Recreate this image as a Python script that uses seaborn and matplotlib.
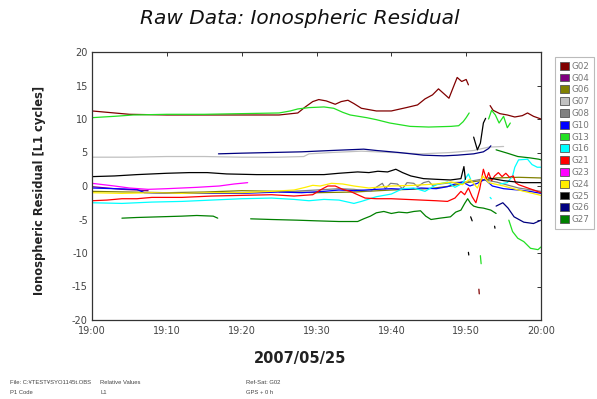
import numpy as np
import pandas as pd
import matplotlib
matplotlib.use("Agg")
import matplotlib.pyplot as plt
from matplotlib.patches import Patch
import seaborn as sns

nan = np.nan

# ---- data: minutes after 19:00, ionospheric residual [L1 cycles]; NaN = break ----
G02_t = [0, 2, 5, 10, 15, 20, 25, 27.5, 28.5, 29.5, 30.3, 31.3, 32.5, 33.3, 34.2, 35, 36, 38, 40, 42, 43.5, 44.5, 45.5, 46.3, 47, 47.7, 48.3, 48.8, 49.4, 50, 50.3,
         nan, 53.2, 53.6, 54.5, 55.5, 56.5, 57.5, 58.2, 59, 60, nan, 51.7, 51.75]
G02_v = [11.2, 11.0, 10.7, 10.6, 10.6, 10.6, 10.6, 10.9, 11.8, 12.6, 12.9, 12.7, 12.2, 12.6, 12.8, 12.3, 11.6, 11.2, 11.2, 11.7, 12.1, 13.0, 13.6, 14.5, 13.8, 13.1, 14.8, 16.2, 15.6, 15.9, 15.1,
         nan, 12.0, 11.3, 10.8, 10.6, 10.3, 10.5, 10.9, 10.4, 10.0, nan, -15.4, -16.1]

G04_t = [0, 2, 4, 6, 7.5]
G04_v = [-0.1, -0.3, -0.5, -0.6, -0.7]

G06_t = [0, 5, 10, 15, 20, 25, 30, 35, 40, 45, 48, 50, 52, 54, 57, 60]
G06_v = [-0.8, -0.9, -1.0, -0.9, -0.7, -0.8, -1.0, -0.9, -0.6, -0.4, 0.0, 0.5, 0.8, 1.2, 1.3, 1.2]

G07_t = [0, 5, 10, 15, 20, 25, 28.3, 29, 32, 36, 40, 44, 48, 51, 53, 55]
G07_v = [4.3, 4.3, 4.4, 4.4, 4.3, 4.3, 4.4, 4.8, 5.0, 5.2, 5.0, 4.8, 5.0, 5.3, 5.8, 5.9]

G08_t = [25, 30, 33, 35, 37.2, 38.1, 38.8, 39.2, 39.9, 40.8, 41.5, 42.1, 43, 43.5, 44.3, 45, 45.5, 46.5, 48, 50, 52, 54, 57, 60]
G08_v = [-0.9, -0.6, -0.4, -0.5, -0.8, -0.1, 0.4, -0.4, 0.4, 0.3, -0.4, 0.5, 0.4, -0.1, 0.5, 0.7, 0.1, 0.3, 0.5, 0.6, 1.0, 0.6, -0.3, -0.8]

G10_t = [0, 3, 6, 7, 10, 15, 20, 25, 28, 31, 33, 35, 38, 40, 42, 44, 46, 47.5, 48.5, 49.5, 50.5, 51.5, 52.5, 53.5, 55, 57, 58.5, 60]
G10_v = [-0.3, -0.4, -0.5, -1.0, -1.1, -1.1, -1.1, -0.9, -1.0, -0.8, -0.6, -0.7, -0.5, -0.4, -0.5, -0.3, -0.4, -0.1, 0.3, 0.6, 0.0, 0.4, 1.0, 0.0, -0.4, -0.6, -0.8, -1.1]

G13_t = [0, 3, 5.5, 10, 15, 20, 25, 26.5, 27.5, 29, 31, 32.3, 33.5, 34.5, 36.7, 38, 39.8, 42.5, 45, 48, 49, 49.6, 50, 50.4,
         nan, 53.0, 53.4, 53.9, 54.4, 55, 55.5, 55.9,
         nan, 51.9, 52.0,
         nan, 55.7, 56.2, 56.9, 57.7, 58.6, 59.6, 60]
G13_v = [10.2, 10.4, 10.6, 10.7, 10.7, 10.8, 10.9, 11.2, 11.5, 11.7, 11.8, 11.6, 11.0, 10.6, 10.2, 9.9, 9.4, 8.9, 8.8, 8.9, 9.0, 9.6, 10.2, 10.9,
         nan, 10.0, 11.3, 10.6, 9.4, 10.4, 8.7, 9.4,
         nan, -10.4, -11.6,
         nan, -5.1, -6.8, -7.8, -8.3, -9.3, -9.5, -9.1]

G16_t = [0, 4, 8, 12, 16, 20, 24, 27, 29, 31, 33, 35, 36, 38, 40, 41.5, 43, 44.5, 46, 47.5, 48.5, 49.5, 50.3, 50.6,
         nan, 53.2, 53.35, nan, 54.5, 55.5, 56.2, 56.5, 57, 58.2, 58.8, 59.5, 60]
G16_v = [-2.5, -2.6, -2.4, -2.3, -2.1, -1.9, -1.8, -2.0, -2.2, -2.0, -2.1, -2.6, -2.3, -1.6, -1.2, -0.4, -0.3, -0.8, 0.2, 0.6, -0.2, 0.4, 1.8, 1.0,
         nan, -1.7, -1.9, nan, 0.3, 0.5, 1.5, 2.8, 3.9, 4.0, 3.2, 2.8, 2.8]

G21_t = [0, 2, 4, 6, 8, 12, 16, 20, 24, 27, 29.5, 30.5, 31.5, 32.5, 33.5, 34.5, 35.5, 36.5, 38, 40, 42, 44, 46, 47.5, 48.5, 49.3, 49.8, 50.3, 50.8, 51.3, 51.8,
         52.3, 52.7, 53.0, 53.4, 53.8, 54.3, 54.8, 55.3, 55.8, 56.3, 56.6, 57, 58, 59, 60]
G21_v = [-2.2, -2.1, -1.9, -1.9, -1.7, -1.7, -1.5, -1.4, -1.3, -1.5, -1.3, -0.6, 0.0, 0.0, -0.5, -0.8, -1.3, -1.8, -1.9, -1.9, -2.0, -2.1, -2.2, -2.3, -1.8, -0.8, -1.3, -0.3, -1.6, -2.5, -0.5,
         2.5, 1.0, 2.0, 0.8, 1.5, 2.0, 1.4, 1.9, 1.3, 1.5, 0.5, 0.2, -0.2, -0.6, -1.0]

G23_t = [0, 1.5, 3, 5, 7.5, 10, 14, 17, 19, 20.8]
G23_v = [0.4, 0.2, 0.0, -0.3, -0.5, -0.4, -0.2, 0.0, 0.3, 0.5]

G24_t = [0, 4, 8, 12, 16, 20, 24, 27, 28.5, 29.5, 30.5, 32, 33.5, 35, 37, 40, 43, 46, 48, 49.5, 50.5, 51.5, 52.2, 53, 55, 57, 58.5, 60]
G24_v = [-1.0, -1.1, -1.0, -1.1, -1.0, -1.0, -0.8, -0.6, -0.2, 0.1, 0.0, 0.4, 0.3, 0.0, -0.3, 0.0, 0.1, 0.3, 0.6, 0.2, 1.0, -0.3, 1.5, 0.5, 0.0, -0.6, -1.0, -1.4]

G25_t = [0, 3, 6, 10, 13, 15.4, 18, 22, 26, 31, 33, 35.5, 37, 38.2, 39.5, 40.6, 41.5, 42.6, 44.3, 46, 47.9, 49.3, 49.7, 49.9,
         nan, 51.0, 51.5, 51.9, 52.3, 52.6,
         nan, 53, 55, 57.5, 60,
         nan, 50.6, 50.8, nan, 50.3, 50.35, nan, 53.8, 53.85]
G25_v = [1.4, 1.5, 1.7, 1.9, 2.0, 2.0, 1.8, 1.7, 1.7, 1.7, 1.9, 2.1, 2.0, 2.2, 2.1, 2.5, 2.0, 1.5, 1.1, 1.0, 0.9, 1.1, 2.9, 1.0,
         nan, 7.3, 5.4, 6.4, 9.4, 10.1,
         nan, 1.2, 0.8, 0.5, 0.5,
         nan, -4.6, -5.2, nan, -9.9, -10.3, nan, -6.0, -6.3]

G26_t = [16.9, 20, 24, 28, 32, 36.3, 38, 41, 44.3, 47, 48.8, 51, 52.3, 53, 53.3,
         nan, 54, 54.9, 55.6, 56.4, 57.7, 59, 60]
G26_v = [4.8, 4.9, 5.0, 5.1, 5.3, 5.5, 5.3, 5.0, 4.6, 4.5, 4.6, 4.8, 5.1, 5.6, 6.0,
         nan, -3.0, -2.5, -3.3, -4.6, -5.4, -5.6, -5.1]

G27_t = [4, 6, 9, 12, 14, 16.2, 16.8,
         nan, 21.2, 24, 27.4, 30, 33, 35.5, 36.3, 37.2, 38, 39, 40, 41, 42.1, 43, 43.9, 44.6, 45.3, 46.5, 47.9, 48.6, 49.3, 49.8, 50.2, 50.6, 51, 51.6, 52.3, 53.3, 54,
         nan, 54, 55.5, 56.9, 58.5, 59.7, 60]
G27_v = [-4.8, -4.7, -4.6, -4.5, -4.4, -4.5, -4.8,
         nan, -4.9, -5.0, -5.1, -5.2, -5.3, -5.3, -4.9, -4.5, -4.0, -3.8, -4.1, -3.9, -4.0, -3.8, -3.7, -4.5, -5.0, -4.8, -4.6, -3.9, -3.6, -2.6, -1.9, -2.6, -3.0, -3.2, -3.3, -3.6, -4.1,
         nan, 5.4, 4.9, 4.4, 4.2, 4.0, 3.9]

sats = ["G02", "G04", "G06", "G07", "G08", "G10", "G13", "G16", "G21", "G23", "G24", "G25", "G26", "G27"]
series_t = [G02_t, G04_t, G06_t, G07_t, G08_t, G10_t, G13_t, G16_t, G21_t, G23_t, G24_t, G25_t, G26_t, G27_t]
series_v = [G02_v, G04_v, G06_v, G07_v, G08_v, G10_v, G13_v, G16_v, G21_v, G23_v, G24_v, G25_v, G26_v, G27_v]
colors = ["#800000", "#800080", "#808000", "#C0C0C0", "#808080", "#0000FF", "#22E022",
          "#00FFFF", "#FF0000", "#FF00FF", "#FFEE00", "#000000", "#000080", "#008000"]

x_ticks = [0, 10, 20, 30, 40, 50, 60]
x_tick_labels = ["19:00", "19:10", "19:20", "19:30", "19:40", "19:50", "20:00"]
y_ticks = [20, 15, 10, 5, 0, -5, -10, -15, -20]

# ---- build long table, splitting series at NaN breaks ----
rows = []
for sat, ts, vs in zip(sats, series_t, series_v):
    seg = 0
    for t, v in zip(ts, vs):
        if np.isnan(t):
            seg += 1
            continue
        rows.append({"sat": sat, "seg": f"{sat}_{seg}", "minute": t, "value": v})
df = pd.DataFrame(rows)

sns.set_style("white")
plt.rcParams["font.family"] = ["DejaVu Sans"]

fig = plt.figure(figsize=(5.97, 3.99), dpi=100)
ax = fig.add_axes([92 / 597, 1 - 320 / 399, (541 - 92) / 597, (320 - 52) / 399])

sns.lineplot(data=df, x="minute", y="value", hue="sat", units="seg", estimator=None,
             palette=dict(zip(sats, colors)), hue_order=sats, sort=False,
             linewidth=0.9, legend=False, ax=ax)

ax.set_xlim(0, 60)
ax.set_ylim(-20, 20)
ax.set_xticks(x_ticks)
ax.set_xticklabels(x_tick_labels)
ax.set_yticks(y_ticks)
ax.set_yticklabels([str(y) for y in y_ticks])
ax.tick_params(direction="in", length=3, width=0.7, top=True, right=True,
               labelsize=7, labelcolor="#444444", color="#333333")
ax.tick_params(axis="x", pad=4)
ax.tick_params(axis="y", pad=3)
for s in ax.spines.values():
    s.set_color("#333333")
    s.set_linewidth(0.9)

ax.set_xlabel("")
ax.set_ylabel("")
fig.text(300 / 597, 1 - 358 / 399, "2007/05/25", ha="center", va="center",
         fontsize=10.5, fontweight="bold", color="#222222")
fig.text(40 / 597, 1 - 190 / 399, "Ionospheric Residual [L1 cycles]", ha="center", va="center",
         rotation=90, fontsize=8.3, fontweight="bold", color="#222222")

fig.text(300 / 597, 1 - 18 / 399, "Raw Data: Ionospheric Residual", ha="center", va="center",
         fontsize=14.5, fontstyle="italic", fontweight="medium", color="#111111")

handles = [Patch(facecolor=c, edgecolor="#555555", linewidth=0.6, label=s) for s, c in zip(sats, colors)]
leg = fig.legend(handles=handles, loc="upper left", bbox_to_anchor=(551 / 597, 1 - 53 / 399),
                 fontsize=6.3, handlelength=1.0, handleheight=1.0, handletextpad=0.4,
                 labelspacing=0.32, borderpad=0.5, frameon=True, fancybox=False,
                 labelcolor="#777777")
leg.get_frame().set_edgecolor("#aaaaaa")
leg.get_frame().set_linewidth(0.8)

small = dict(fontsize=4.2, color="#444444", va="center", ha="left", family=["Liberation Sans", "DejaVu Sans"])
fig.text(10 / 597, 1 - 383 / 399, "File: C:¥TEST¥SYO1145t.OBS", **small)
fig.text(10 / 597, 1 - 392 / 399, "P1 Code", **small)
fig.text(100 / 597, 1 - 383 / 399, "Relative Values", **small)
fig.text(100 / 597, 1 - 392 / 399, "L1", **small)
fig.text(246 / 597, 1 - 383 / 399, "Ref-Sat: G02", **small)
fig.text(246 / 597, 1 - 392 / 399, "GPS + 0 h", **small)

fig.savefig("out.png", dpi=100)
